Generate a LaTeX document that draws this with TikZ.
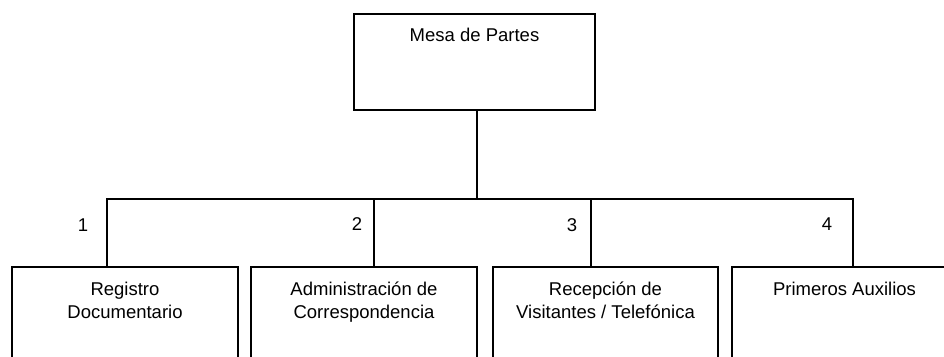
\documentclass[tikz,border=0pt]{standalone}
\usepackage{fontspec}
\setmainfont{Liberation Sans}
\begin{document}
\begin{tikzpicture}[x=1pt,y=-1pt,
  box/.style={draw=black, line width=1.6pt, rectangle, inner sep=0pt, outer sep=0pt, anchor=north west},
  txt/.style={font=\fontsize{18.5}{23}\selectfont, align=center, inner sep=0pt, anchor=north},
  num/.style={font=\fontsize{18.5}{23}\selectfont, inner sep=0pt},
  link/.style={draw=black, line width=1.6pt}]
\useasboundingbox (0,0) rectangle (944,356);
\clip (0,0) rectangle (944,356);
% boxes
\node[box, minimum width=241pt, minimum height=96pt] (top) at (354,14) {};
\node[box, minimum width=226pt, minimum height=130pt] (b1) at (12,267) {};
\node[box, minimum width=226pt, minimum height=130pt] (b2) at (251,267) {};
\node[box, minimum width=225pt, minimum height=130pt] (b3) at (493,267) {};
\node[box, minimum width=225pt, minimum height=130pt] (b4) at (732,267) {};
% texts
\node[txt] (ttop) at (474.5,28) {Mesa de Partes};
\node[txt] (t1) at (125,282) {Registro\\Documentario};
\node[txt] (t2) at (364,282) {Administración de\\Correspondencia};
\node[txt] (t3) at (605.5,282) {Recepción de\\Visitantes / Telefónica};
\node[txt] (t4) at (844.5,282) {Primeros Auxilios};
% numbers
\node[num] (n1) at (83,225) {1};
\node[num] (n2) at (357,224) {2};
\node[num] (n3) at (572,225) {3};
\node[num] (n4) at (827,224) {4};
% connectors
\coordinate (j0) at (477,199);
\coordinate (j1) at (107,199);
\coordinate (j2) at (374,199);
\coordinate (j3) at (591,199);
\coordinate (j4) at (853,199);
\draw[link] (top.south -| j0) -- (j0);
\draw[link] (j1 |- b1.north) -- (j1) -- (j4) -- (j4 |- b4.north);
\draw[link] (j2) -- (j2 |- b2.north);
\draw[link] (j3) -- (j3 |- b3.north);
\end{tikzpicture}
\end{document}
